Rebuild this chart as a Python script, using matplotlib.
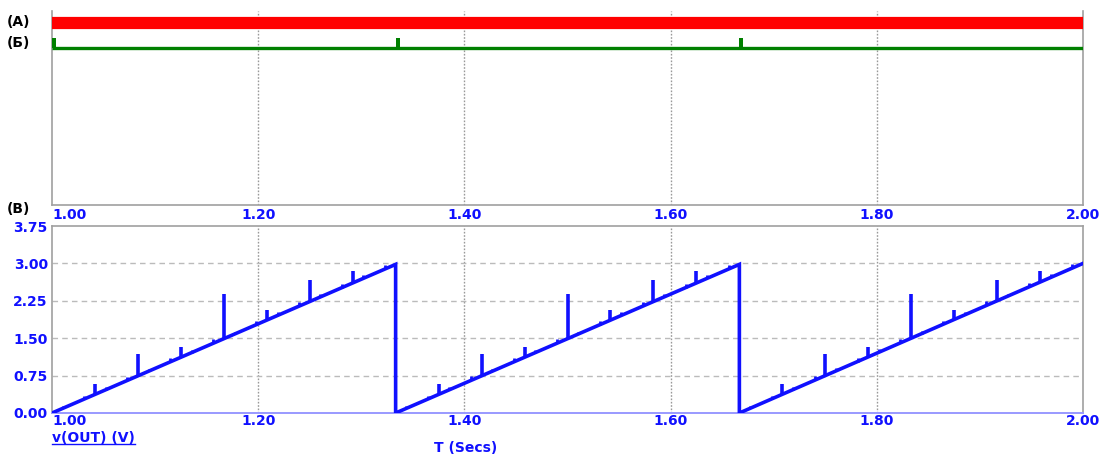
import numpy as np
import matplotlib
matplotlib.use("Agg")
import matplotlib.pyplot as plt
from matplotlib.lines import Line2D

# ---- data ---------------------------------------------------------------
t_min, t_max = 1.0, 2.0
x_ticks = [1.00, 1.20, 1.40, 1.60, 1.80, 2.00]
x_tick_labels = ["1.00", "1.20", "1.40", "1.60", "1.80", "2.00"]
y_ticks = [0.00, 0.75, 1.50, 2.25, 3.00, 3.75]
y_tick_labels = ["0.00", "0.75", "1.50", "2.25", "3.00", "3.75"]

# sawtooth vertices of v(OUT)
saw_t = [1.0, 1.3333, 1.3333, 1.6667, 1.6667, 2.0]
saw_v = [0.0, 2.98, 0.0, 2.98, 0.0, 3.0]

# large glitches on the ramp (time, peak voltage)
spike_t = [1.0417, 1.0833, 1.1250, 1.1667, 1.2083, 1.2500, 1.2917,
           1.3750, 1.4167, 1.4583, 1.5000, 1.5417, 1.5833, 1.6250,
           1.7083, 1.7500, 1.7917, 1.8333, 1.8750, 1.9167, 1.9583]
spike_v = [0.58, 1.18, 1.33, 2.38, 2.07, 2.67, 2.84,
           0.58, 1.18, 1.33, 2.38, 2.07, 2.67, 2.84,
           0.58, 1.18, 1.33, 2.38, 2.07, 2.67, 2.84]

# small ripple bumps on the ramp (time, height above the ramp)
bump_t = [1.0104, 1.0313, 1.0521, 1.0729, 1.0938, 1.1146, 1.1354, 1.1563,
          1.1771, 1.1979, 1.2188, 1.2396, 1.2604, 1.2813, 1.3021, 1.3229,
          1.3438, 1.3646, 1.3854, 1.4063, 1.4271, 1.4479, 1.4688, 1.4896,
          1.5104, 1.5313, 1.5521, 1.5729, 1.5938, 1.6146, 1.6354, 1.6563,
          1.6771, 1.6979, 1.7188, 1.7396, 1.7604, 1.7813, 1.8021, 1.8229,
          1.8438, 1.8646, 1.8854, 1.9063, 1.9271, 1.9479, 1.9688, 1.9896]
bump_h = [0.05, 0.07, 0.06, 0.08, 0.05, 0.07, 0.06, 0.08,
          0.05, 0.07, 0.06, 0.08, 0.05, 0.07, 0.06, 0.08,
          0.05, 0.07, 0.06, 0.08, 0.05, 0.07, 0.06, 0.08,
          0.05, 0.07, 0.06, 0.08, 0.05, 0.07, 0.06, 0.08,
          0.05, 0.07, 0.06, 0.08, 0.05, 0.07, 0.06, 0.08,
          0.05, 0.07, 0.06, 0.08, 0.05, 0.07, 0.06, 0.08]

# digital channels: (A) stays high, (Б) pulses at each reset
digA_t = [1.0, 2.0]
digA_v = [1, 1]
digB_pulse_t = [1.0, 1.3333, 1.6667]
digB_pulse_w = 0.004

# ---- styling --------------------------------------------------------------
BLUE = "#1010ff"
GRID = "#999999"
SPINE = "#a0a0a0"
FS = 10
TICKFONT = dict(family="DejaVu Sans", weight="bold", size=FS, color=BLUE)

fig = plt.figure(figsize=(11.06, 4.54), dpi=100)
fig.patch.set_facecolor("white")

L, W = 52 / 1106, (1083 - 52) / 1106
ax_d = fig.add_axes([L, 1 - 205 / 454, W, 194 / 454])
ax_a = fig.add_axes([L, 1 - 413 / 454, W, 187 / 454])


def ramp_at(ts):
    for a, b in [(0, 1), (2, 3), (4, 5)]:
        if saw_t[a] <= ts <= saw_t[b]:
            return np.interp(ts, [saw_t[a], saw_t[b]], [saw_v[a], saw_v[b]])
    return 0.0


# ---- digital panel ----------------------------------------------------------
ax_d.set_xlim(t_min, t_max)
ax_d.set_ylim(0, 194)
levelA, levelB, pulse_h = 182.5, 157.0, 10.0
ax_d.plot(digA_t, [levelA * v for v in digA_v], color="#ff0000", lw=8.8,
          solid_capstyle="butt", zorder=3)
ax_d.plot([t_min, t_max], [levelB, levelB], color="#008000", lw=2.4,
          solid_capstyle="butt", zorder=3)
for tp in digB_pulse_t:
    ax_d.fill_between([tp, tp + digB_pulse_w], levelB, levelB + pulse_h,
                      color="#008000", lw=0, zorder=3)
for xt in x_ticks[1:-1]:
    ax_d.axvline(xt, color=GRID, lw=1.0, ls=(0, (1.2, 1.2)), zorder=1)
ax_d.set_yticks([])
ax_d.set_xticks(x_ticks)
ax_d.set_xticklabels(x_tick_labels, **TICKFONT)
ax_d.tick_params(axis="x", length=0, pad=2)
ax_d.get_xticklabels()[0].set_horizontalalignment("left")
ax_d.spines["top"].set_visible(False)
for s in ("left", "right", "bottom"):
    ax_d.spines[s].set_color(SPINE)
    ax_d.spines[s].set_linewidth(1.2)

# ---- analog panel -----------------------------------------------------------
ax_a.set_xlim(t_min, t_max)
ax_a.set_ylim(0, 3.75)
for xt in x_ticks[1:-1]:
    ax_a.axvline(xt, color=GRID, lw=1.0, ls=(0, (1.2, 1.2)), zorder=1)
for yt in y_ticks[1:-1]:
    ax_a.axhline(yt, color="#bbbbbb", lw=1.0, ls=(0, (4, 3)), zorder=1)

ax_a.plot(saw_t, saw_v, color=BLUE, lw=2.6, zorder=3, solid_joinstyle="miter")
for ts, pk in zip(spike_t, spike_v):
    ax_a.vlines(ts, ramp_at(ts), pk, color=BLUE, lw=2.6, zorder=3)
for ts, h in zip(bump_t, bump_h):
    base = ramp_at(ts)
    ax_a.vlines(ts, base, base + h, color=BLUE, lw=2.0, zorder=3)

ax_a.set_xticks(x_ticks)
ax_a.set_xticklabels(x_tick_labels, **TICKFONT)
ax_a.get_xticklabels()[0].set_horizontalalignment("left")
ax_a.set_yticks(y_ticks)
ax_a.set_yticklabels(y_tick_labels, **TICKFONT)
ax_a.tick_params(length=0, pad=1)
ax_a.tick_params(axis="y", pad=3)
for s in ("left", "right", "top"):
    ax_a.spines[s].set_color(SPINE)
    ax_a.spines[s].set_linewidth(1.2)
ax_a.spines["bottom"].set_color("#9999ff")
ax_a.spines["bottom"].set_linewidth(1.4)

# ---- channel labels and captions ---------------------------------------------
lab = dict(family="DejaVu Sans", weight="bold", size=FS, color="black",
           ha="left", va="center")
fig.text(7 / 1106, 1 - 22 / 454, "(A)", **lab)
fig.text(7 / 1106, 1 - 43 / 454, "(Б)", **lab)
fig.text(7 / 1106, 1 - 209 / 454, "(B)", **lab)

trace_name = fig.text(52 / 1106, 1 - 438 / 454, "v(OUT) (V)",
                      family="DejaVu Sans", weight="bold", size=FS,
                      color=BLUE, ha="left", va="center")
# underline the trace name across its rendered width
fig.canvas.draw()
bb = trace_name.get_window_extent().transformed(fig.transFigure.inverted())
fig.add_artist(Line2D([bb.x0, bb.x1], [1 - 444 / 454, 1 - 444 / 454],
                      color=BLUE, lw=1.0, transform=fig.transFigure))
fig.text(466 / 1106, 1 - 448 / 454, "T (Secs)", family="DejaVu Sans",
         weight="bold", size=FS, color=BLUE, ha="center", va="center")

fig.savefig("out.png", dpi=100, facecolor="white")
